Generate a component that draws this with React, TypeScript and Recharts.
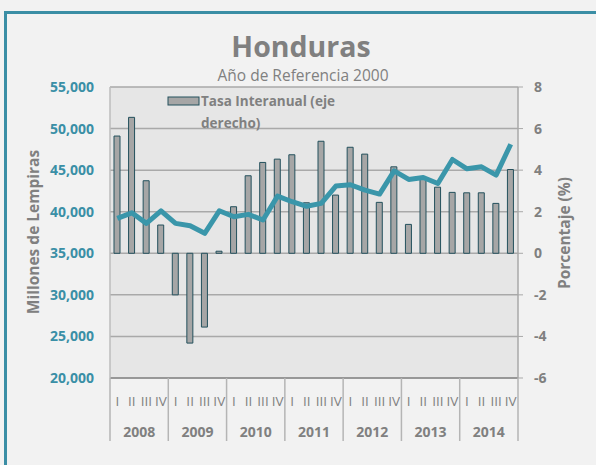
import React from 'react';
import {
  ComposedChart, Bar, Line, XAxis, YAxis, CartesianGrid, Legend,
} from 'recharts';

const quarters = ['I', 'II', 'III', 'IV'];
const years = ['2008', '2009', '2010', '2011', '2012', '2013', '2014'];

// PIB trimestral, millones de lempiras (eje izquierdo)
const pib = [
  39200, 39870, 38600, 40110,
  38600, 38310, 37400, 40110,
  39400, 39680, 39000, 41880,
  41200, 40650, 41000, 43080,
  43240, 42600, 42120, 44920,
  43880, 44120, 43400, 46280,
  45160, 45400, 44400, 48120,
];

// Tasa interanual en % (eje derecho)
const tasa = [
  5.64, 6.54, 3.49, 1.36,
  -2.0, -4.32, -3.55, 0.1,
  2.24, 3.73, 4.37, 4.53,
  4.74, 2.43, 5.39, 2.8,
  5.1, 4.77, 2.45, 4.16,
  1.39, 3.57, 3.18, 2.93,
  2.91, 2.91, 2.4, 4.03,
];

const leftTicks = [20000, 25000, 30000, 35000, 40000, 45000, 50000, 55000];
const rightTicks = [-6, -4, -2, 0, 2, 4, 6, 8];

const data = pib.map((v, i) => ({
  q: quarters[i % 4],
  year: years[Math.floor(i / 4)],
  pib: v,
  tasa: tasa[i],
}));

const GRAY = '#808080';
const TEAL = '#3a8fa6';
const PLOT_LEFT = 110;
const PLOT_RIGHT = 518;
const PLOT_BOTTOM = 378;
const BW = (PLOT_RIGHT - PLOT_LEFT) / data.length;

const QuarterTick = (props: any) => {
  const { x, payload } = props;
  return (
    <text x={x} y={401} textAnchor="middle" dominantBaseline="central" fill={GRAY} fontSize={13.5}>
      {payload.value}
    </text>
  );
};

const YearTick = (props: any) => {
  const { x, payload } = props;
  const idx = payload.index ?? props.index;
  return (
    <g>
      {idx % 4 === 0 && (
        <line x1={x - BW / 2} x2={x - BW / 2} y1={PLOT_BOTTOM} y2={441} stroke="#b5b5b5" strokeWidth={1.5} />
      )}
      {idx === data.length - 1 && (
        <line x1={x + BW / 2} x2={x + BW / 2} y1={PLOT_BOTTOM} y2={441} stroke="#b5b5b5" strokeWidth={1.5} />
      )}
      {idx % 4 === 1 && (
        <text x={x + BW / 2} y={431} textAnchor="middle" dominantBaseline="central" fill={GRAY} fontSize={14} fontWeight="bold">
          {payload.value}
        </text>
      )}
    </g>
  );
};

const renderLegend = () => (
  <div style={{ display: 'flex', alignItems: 'flex-start', color: GRAY, fontWeight: 'bold', fontSize: 13.5, lineHeight: '22px' }}>
    <svg width={34} height={22} style={{ flex: 'none' }}>
      <rect x={1} y={7} width={31} height={8} fill="#a6a6a6" stroke="#23505c" strokeWidth={1} />
    </svg>
    <span>Tasa Interanual (eje<br />derecho)</span>
  </div>
);

export default function App() {
  return (
    <div style={{ position: 'absolute', left: 0, top: 0, width: 596, height: 465, background: '#f2f2f2', overflow: 'hidden', fontFamily: '"Open Sans", sans-serif' }}>
      <div style={{ position: 'absolute', left: 4, top: 11, width: 700, height: 600, border: '3px solid #3b8ea5', boxSizing: 'border-box' }} />
      <div style={{ position: 'absolute', left: 301, top: 46, transform: 'translate(-50%, -50%)', fontSize: 28.5, fontWeight: 'bold', color: GRAY, whiteSpace: 'nowrap' }}>
        Honduras
      </div>
      <div style={{ position: 'absolute', left: 303, top: 75, transform: 'translate(-50%, -50%)', fontSize: 15.5, color: GRAY, whiteSpace: 'nowrap' }}>
        Año de Referencia 2000
      </div>
      <div style={{ position: 'absolute', left: 33, top: 232, transform: 'translate(-50%, -50%) rotate(-90deg)', fontSize: 15.5, fontWeight: 'bold', color: GRAY, whiteSpace: 'nowrap' }}>
        Millones de Lempiras
      </div>
      <div style={{ position: 'absolute', left: 564, top: 233, transform: 'translate(-50%, -50%) rotate(-90deg)', fontSize: 15.5, fontWeight: 'bold', color: GRAY, whiteSpace: 'nowrap' }}>
        Porcentaje (%)
      </div>
      <div style={{ position: 'absolute', left: 0, top: 0 }}>
        <ComposedChart width={596} height={465} data={data} margin={{ top: 87, right: 0, bottom: 0, left: 0 }}>
          <CartesianGrid xAxisId="q" yAxisId="right" vertical={false} fill="#e6e6e6" stroke="#a9a9a9" strokeWidth={1.5} />
          <XAxis
            xAxisId="q"
            dataKey="q"
            height={40}
            interval={0}
            tickLine={false}
            axisLine={{ stroke: '#8c8c8c', strokeWidth: 1.5 }}
            tick={<QuarterTick />}
          />
          <XAxis
            xAxisId="y"
            dataKey="year"
            height={47}
            interval={0}
            tickLine={false}
            axisLine={false}
            tick={<YearTick />}
          />
          <YAxis
            yAxisId="left"
            width={110}
            domain={[20000, 55000]}
            ticks={leftTicks}
            interval={0}
            tickLine={false}
            tickSize={0}
            tickMargin={16}
            axisLine={{ stroke: '#bdbdbd', strokeWidth: 1.5 }}
            tick={{ fill: TEAL, fontSize: 14, fontWeight: 'bold' }}
            tickFormatter={(v: number) => v.toLocaleString('en-US')}
          />
          <YAxis
            yAxisId="right"
            orientation="right"
            width={78}
            domain={[-6, 8]}
            ticks={rightTicks}
            interval={0}
            tickSize={5}
            tickMargin={11}
            tickLine={{ stroke: '#a9a9a9' }}
            axisLine={{ stroke: '#a9a9a9', strokeWidth: 1.5 }}
            tick={{ fill: GRAY, fontSize: 14, fontWeight: 'bold' }}
          />
          <Legend
            layout="vertical"
            align="center"
            verticalAlign="middle"
            wrapperStyle={{ left: 167, top: 90, width: 200 }}
            content={renderLegend}
          />
          <Bar
            xAxisId="q"
            yAxisId="right"
            dataKey="tasa"
            barSize={6}
            fill="#a6a6a6"
            stroke="#23505c"
            strokeWidth={1}
            isAnimationActive={false}
          />
          <Line
            xAxisId="q"
            yAxisId="left"
            dataKey="pib"
            type="linear"
            stroke="#3a96aa"
            strokeWidth={5}
            strokeLinejoin="round"
            dot={false}
            activeDot={false}
            legendType="none"
            isAnimationActive={false}
          />
        </ComposedChart>
      </div>
    </div>
  );
}
